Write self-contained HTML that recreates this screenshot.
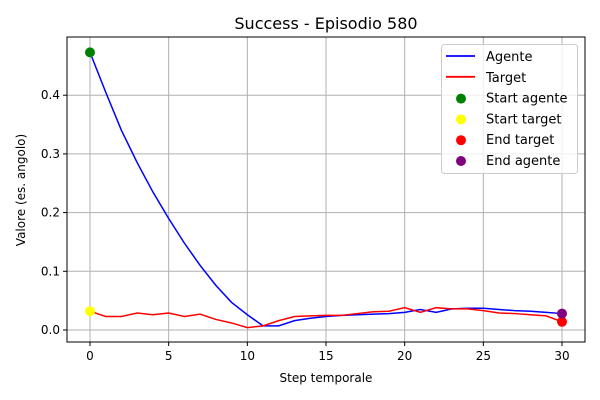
<!DOCTYPE html>
<html><head><meta charset="utf-8"><style>
html,body{margin:0;padding:0;background:#fff;}
svg{display:block;font-family:"DejaVu Sans","Liberation Sans",sans-serif;}
</style></head><body>
<svg id="chart" width="600" height="400" viewBox="0 0 600 400">
<text x="326" y="29" font-size="16" text-anchor="middle">Success - Episodio 580</text>
<g id="grid"></g>
<g id="ticks" font-size="12"></g>
<g id="series"></g>
<rect x="67" y="37" width="518" height="305" fill="none" stroke="#000" stroke-width="1"/>
<text x="326" y="382" font-size="12" text-anchor="middle">Step temporale</text>
<text x="25" y="190" font-size="12" text-anchor="middle" transform="rotate(-90 25 190)">Valore (es. angolo)</text>
<g id="legend">
<rect x="441.5" y="44.5" width="136" height="129" rx="3" fill="#fff" fill-opacity="0.8" stroke="#ccc"/>
</g>
</svg>
<script>
const steps = [0,1,2,3,4,5,6,7,8,9,10,11,12,13,14,15,16,17,18,19,20,21,22,23,24,25,26,27,28,29,30];
const agente = [0.473,0.405,0.340,0.285,0.235,0.190,0.148,0.110,0.076,0.047,0.026,0.007,0.007,0.016,0.020,0.023,0.025,0.026,0.027,0.028,0.030,0.035,0.030,0.036,0.037,0.037,0.035,0.033,0.032,0.030,0.028];
const target = [0.032,0.023,0.023,0.029,0.026,0.029,0.023,0.027,0.018,0.012,0.004,0.007,0.016,0.023,0.024,0.025,0.025,0.028,0.031,0.032,0.038,0.030,0.038,0.036,0.036,0.033,0.029,0.028,0.026,0.024,0.014];
const xTicks = [0,5,10,15,20,25,30];
const yTicks = [0.0,0.1,0.2,0.3,0.4];
const yTickLabels = ["0.0","0.1","0.2","0.3","0.4"];
const legendLabels = ["Agente","Target","Start agente","Start target","End target","End agente"];

const NS="http://www.w3.org/2000/svg";
function X(v){return 90+(v-0)*(472/30);}
function Y(v){return 330-v*587;}
function mk(tag,attrs,parent){const e=document.createElementNS(NS,tag);for(const k in attrs)e.setAttribute(k,attrs[k]);parent.appendChild(e);return e;}
const grid=document.getElementById('grid'),ticks=document.getElementById('ticks'),series=document.getElementById('series'),legend=document.getElementById('legend');
xTicks.forEach(t=>{
  const l=mk('line',{x1:X(t),x2:X(t),y1:37,y2:342,stroke:'#b0b0b0','stroke-width':1},grid);
  
  
  mk('line',{x1:X(t),x2:X(t),y1:342,y2:346,stroke:'#000'},ticks);
  const tx=mk('text',{x:X(t),y:360,'text-anchor':'middle'},ticks);tx.textContent=t;
  
  
});
yTicks.forEach((t,i)=>{
  const l=mk('line',{x1:67,x2:585,y1:Y(t),y2:Y(t),stroke:'#b0b0b0','stroke-width':1},grid);
  
  
  mk('line',{x1:63,x2:67,y1:Y(t),y2:Y(t),stroke:'#000'},ticks);
  const tx=mk('text',{x:60,y:Y(t)+4,'text-anchor':'end'},ticks);tx.textContent=yTickLabels[i];
  
  
});
function pts(arr){return arr.map((v,i)=>X(steps[i])+','+Y(v)).join(' ');}
const la=mk('polyline',{points:pts(agente),fill:'none',stroke:'#0000ff','stroke-width':1.5},series);


const lt=mk('polyline',{points:pts(target),fill:'none',stroke:'#ff0000','stroke-width':1.5},series);


const n=steps.length-1;
const m1=mk('circle',{cx:X(steps[0]),cy:Y(agente[0]),r:5,fill:'green'},series);


const m2=mk('circle',{cx:X(steps[0]),cy:Y(target[0]),r:5,fill:'yellow'},series);


const m3=mk('circle',{cx:X(steps[n]),cy:Y(target[n]),r:5,fill:'red'},series);


const m4=mk('circle',{cx:X(steps[n]),cy:Y(agente[n]),r:5,fill:'purple'},series);


const colors=['#0000ff','#ff0000','green','yellow','red','purple'];
legendLabels.forEach((lab,i)=>{
  const y=56+i*20.8;
  if(i<2){const l=mk('line',{x1:446,x2:475,y1:y,y2:y,stroke:colors[i],'stroke-width':1.8},legend);
    
    }
  else{const c=mk('circle',{cx:461,cy:y+1,r:5,fill:colors[i]},legend);
    
    }
  const t=mk('text',{x:486,y:y+5,'font-size':'13'},legend);t.textContent=lab;
  
  
});
</script>
</body></html>
